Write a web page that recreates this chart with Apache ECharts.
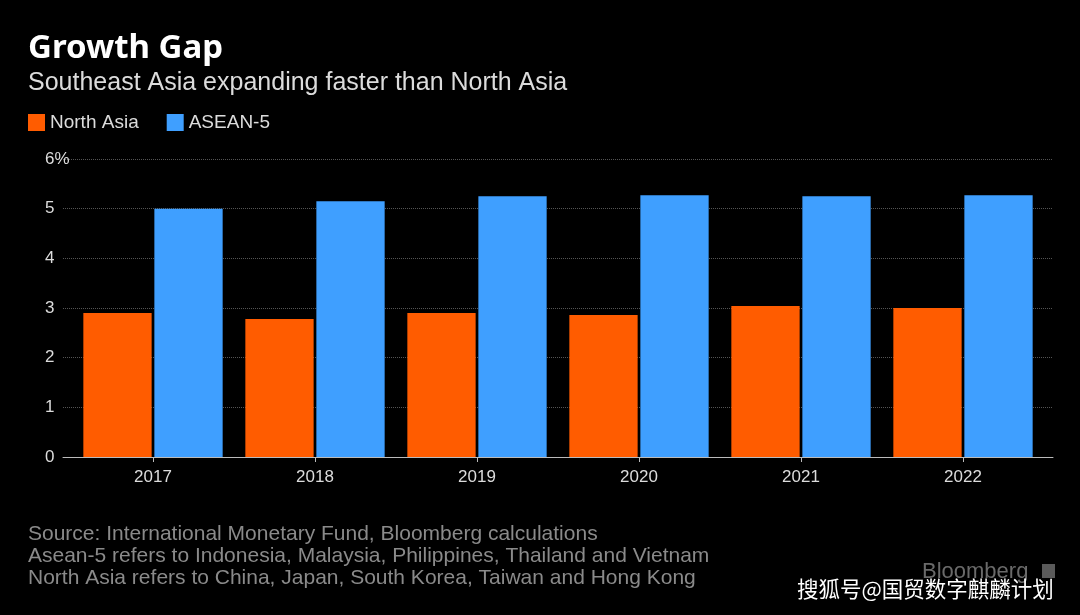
<!DOCTYPE html>
<html>
<head>
<meta charset="utf-8">
<script src="https://cdn.jsdelivr.net/npm/echarts@6/dist/echarts.min.js"></script>
<style>
html,body{margin:0;padding:0;background:#000;}
#c{width:1080px;height:615px;}
</style>
</head>
<body>
<div id="c"></div>
<script>
const categories = ['2017', '2018', '2019', '2020', '2021', '2022'];
const northAsia = [2.90, 2.78, 2.90, 2.86, 3.04, 3.00];
const asean5 = [5.00, 5.15, 5.25, 5.27, 5.25, 5.27];
const yTicks = [0, 1, 2, 3, 4, 5, 6];

const FONT = '"Liberation Sans", "Noto Sans", sans-serif';
const chart = echarts.init(document.getElementById('c'));
chart.setOption({
  backgroundColor: '#000',
  animation: false,
  textStyle: { fontFamily: FONT },
  title: [
    { text: 'Growth Gap', left: 28, top: 32, padding: 0, textStyle: { color: '#fff', fontSize: 33, fontWeight: 'bold', fontFamily: '"Noto Sans", sans-serif' } },
    { text: 'Southeast Asia expanding faster than North Asia', left: 28, top: 71, padding: 0, textStyle: { color: '#dcdcdc', fontSize: 25, fontWeight: 'normal', fontFamily: FONT } }
  ],
  legend: {
    left: 28, top: 113, padding: 0, itemWidth: 17, itemHeight: 17, itemGap: 28,
    icon: 'rect',
    textStyle: { color: '#dcdcdc', fontSize: 19, fontFamily: FONT },
    data: ['North Asia', 'ASEAN-5']
  },
  grid: [
    { left: 63, right: 27, top: 159, bottom: 158 },
    { left: 72, right: 36, top: 159, bottom: 158 }
  ],
  xAxis: [
    { type: 'category', gridIndex: 0, data: categories,
      axisLine: { lineStyle: { color: '#bbb', width: 1 } }, axisTick: { show: false }, axisLabel: { show: false } },
    { type: 'category', gridIndex: 1, data: categories,
      axisLine: { show: false },
      axisTick: { show: true, alignWithLabel: true, length: 5, lineStyle: { color: '#bbb' } },
      axisLabel: { color: '#dcdcdc', fontSize: 17, margin: 12, fontFamily: FONT } }
  ],
  yAxis: [
    { type: 'value', gridIndex: 0, min: yTicks[0], max: yTicks[yTicks.length - 1], interval: 1,
      axisLine: { show: false }, axisTick: { show: false },
      axisLabel: { color: '#dcdcdc', fontSize: 17, margin: 18, align: 'left', fontFamily: FONT,
        formatter: v => v === yTicks[yTicks.length - 1] ? v + '%' : String(v) },
      splitLine: { show: true, lineStyle: { color: '#555', type: 'dotted', width: 1 } } },
    { type: 'value', gridIndex: 1, min: yTicks[0], max: yTicks[yTicks.length - 1], interval: 1,
      show: false, splitLine: { show: false } }
  ],
  series: [
    { name: 'North Asia', type: 'bar', xAxisIndex: 1, yAxisIndex: 1, data: northAsia,
      itemStyle: { color: '#ff5c00' }, barCategoryGap: '14%', barGap: '4%' },
    { name: 'ASEAN-5', type: 'bar', xAxisIndex: 1, yAxisIndex: 1, data: asean5,
      itemStyle: { color: '#3f9fff' }, barCategoryGap: '14%', barGap: '4%' }
  ],
  graphic: [
    { type: 'text', left: 28, top: 524, style: { text: 'Source: International Monetary Fund, Bloomberg calculations', fill: '#8a8a8a', font: '21px ' + FONT } },
    { type: 'text', left: 28, top: 546, style: { text: 'Asean-5 refers to Indonesia, Malaysia, Philippines, Thailand and Vietnam', fill: '#8a8a8a', font: '21px ' + FONT } },
    { type: 'text', left: 28, top: 568, style: { text: 'North Asia refers to China, Japan, South Korea, Taiwan and Hong Kong', fill: '#8a8a8a', font: '21px ' + FONT } },
    { type: 'text', left: 922, top: 561, style: { text: 'Bloomberg', fill: '#6a6a6a', font: '22px ' + FONT } },
    { type: 'rect', left: 1042, top: 564, shape: { width: 13, height: 14 }, style: { fill: '#5a5a5a' } },
    { type: 'text', left: 797, top: 578, style: { text: '搜狐号@国贸数字麒麟计划', fill: '#ffffff', font: '21.5px "Noto Sans CJK SC", sans-serif' } }
  ]
});
</script>
</body>
</html>
